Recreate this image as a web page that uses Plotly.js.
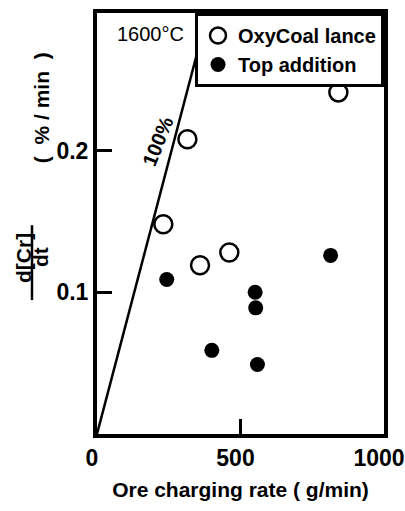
<!DOCTYPE html>
<html>
<head>
<meta charset="utf-8">
<script src="https://cdn.plot.ly/plotly-3.0.1.min.js"></script>
<style>html,body{margin:0;padding:0;background:#fff;}#chart{width:405px;height:511px;}</style>
</head>
<body>
<div id="chart"></div>
<script>
// Data
const oxyX = [841, 315, 231, 359, 461];
const oxyY = [0.241, 0.208, 0.148, 0.119, 0.128];
const topX = [243, 551, 553, 400, 559, 814];
const topY = [0.109, 0.100, 0.089, 0.059, 0.049, 0.126];
const lineX = [0, 387];
const lineY = [0, 0.298];
const xTicks = [0, 500, 1000];
const xTickText = ['0', '500', '1000'];
const yTicks = [0.1, 0.2];
const yTickText = ['0.1', '0.2'];
const seriesNames = ['OxyCoal lance', 'Top addition'];

const FONT = 'Liberation Sans, Arial, sans-serif';

const traces = [
  {x: lineX, y: lineY, mode: 'lines', line: {color: 'black', width: 2.5}, showlegend: false, hoverinfo: 'skip'},
  {x: oxyX, y: oxyY, mode: 'markers', name: seriesNames[0],
   marker: {symbol: 'circle-open', size: 18, color: 'black', line: {width: 2.5, color: 'black'}}},
  {x: topX, y: topY, mode: 'markers', name: seriesNames[1],
   marker: {symbol: 'circle', size: 15, color: 'black'}}
];

function note(text, x, y, size, angle, weight) {
  return {text: text, xref: 'paper', yref: 'paper', x: x, y: y, xanchor: 'center', yanchor: 'middle',
          showarrow: false, textangle: angle, font: {family: FONT, size: size, weight: weight, color: 'black'}};
}

const layout = {
  width: 405, height: 511,
  margin: {l: 97, r: 21, t: 13, b: 77},
  paper_bgcolor: 'white', plot_bgcolor: 'white',
  font: {family: FONT, color: 'black'},
  showlegend: true,
  legend: {
    x: 1, y: 1, xanchor: 'right', yanchor: 'top',
    bordercolor: 'black', borderwidth: 3, bgcolor: 'white',
    font: {family: FONT, size: 20, weight: 'bold', color: 'black'},
    itemwidth: 30, tracegroupgap: 0
  },
  xaxis: {
    range: [0, 1000], tickvals: xTicks, ticktext: xTickText,
    ticks: 'inside', ticklen: 15, tickwidth: 3, tickcolor: 'black',
    showline: true, linewidth: 4, linecolor: 'black', mirror: true,
    showgrid: false, zeroline: false, fixedrange: true, ticklabeloverflow: 'allow',
    ticklabelshift: -5,
    tickfont: {family: FONT, size: 23, weight: 'bold', color: 'black'},
    title: {text: 'Ore charging rate ( g/min)', standoff: 14,
            font: {family: FONT, size: 21, weight: 'bold', color: 'black'}}
  },
  yaxis: {
    range: [0, 0.297], tickvals: yTicks, ticktext: yTickText,
    ticks: 'inside', ticklen: 15, tickwidth: 3, tickcolor: 'black',
    showline: true, linewidth: 4, linecolor: 'black', mirror: true,
    showgrid: false, zeroline: false, fixedrange: true,
    tickfont: {family: FONT, size: 23, weight: 'bold', color: 'black'}
  },
  annotations: [
    note('1600°C', 0.188, 0.950, 20, 0, 'normal'),
    note('100%', 0.2125, 0.696, 20, -68, 'bold'),
    note('(  % / min  )', -0.195, 0.774, 21, -90, 'bold'),
    note('d[Cr]', -0.258, 0.418, 21, -90, 'bold'),
    note('dt', -0.199, 0.420, 21, -90, 'bold')
  ],
  shapes: [
    {type: 'line', xref: 'paper', yref: 'paper', x0: -0.2265, x1: -0.2265, y0: 0.318, y1: 0.496,
     line: {color: 'black', width: 2.5}}
  ]
};

Plotly.newPlot('chart', traces, layout, {displayModeBar: false, staticPlot: true});
</script>
</body>
</html>
